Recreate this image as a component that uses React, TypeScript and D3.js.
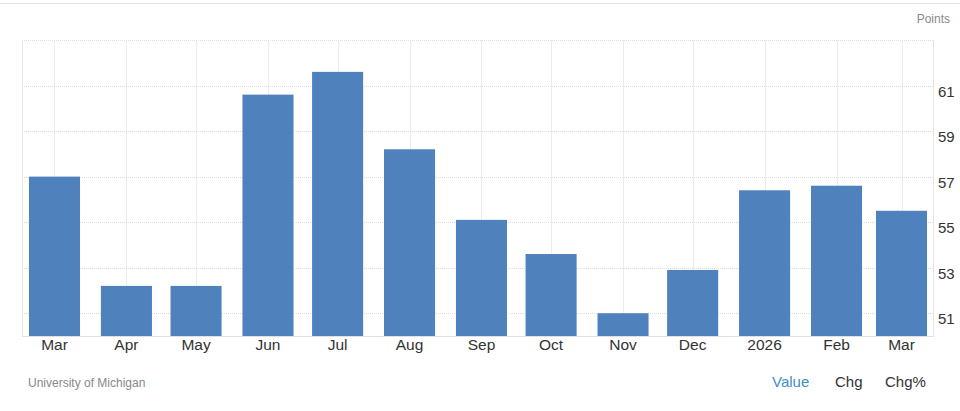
import React from "react";
import * as d3 from "d3";

const months = ["2025-03-01","2025-04-01","2025-05-01","2025-06-01","2025-07-01","2025-08-01","2025-09-01","2025-10-01","2025-11-01","2025-12-01","2026-01-01","2026-02-01","2026-03-01"];
const tickLabels = ["Mar","Apr","May","Jun","Jul","Aug","Sep","Oct","Nov","Dec","2026","Feb","Mar"];
const values = [57.0, 52.2, 52.2, 60.6, 61.6, 58.2, 55.1, 53.6, 51.0, 52.9, 56.4, 56.6, 55.5];
const yTicks = [51, 53, 55, 57, 59, 61];
const footerButtons = ["Value", "Chg", "Chg%"];

const W = 960, H = 411;
const left = 22, right = 934, top = 40, bottom = 336;
const DAY = 86400000;

export default function App() {
  const dates = months.map((m) => new Date(m + "T00:00:00Z"));
  const x = d3.scaleUtc()
    .domain([new Date(+dates[0] - 14 * DAY), new Date(+dates[dates.length - 1] + 14 * DAY)])
    .range([left, right]);
  const y = d3.scaleLinear().domain([50, 63]).range([bottom, top]);
  const barW = (x(new Date(22 * DAY)) as number) - (x(new Date(0)) as number);

  const font = "'Liberation Sans', Arial, sans-serif";
  return (
    <div style={{ position: "absolute", left: 0, top: 0 }}>
      <svg width={W} height={H} style={{ display: "block", fontFamily: font }}>
        <rect width={W} height={H} fill="#fff" />
        <line x1={0} x2={W} y1={3.5} y2={3.5} stroke="#e4e4e4" />
        <text x={950} y={23} textAnchor="end" fontSize={12} fill="#8a8a8a">Points</text>
        {dates.map((d, i) => (
          <line key={"vg" + i} x1={Math.round(x(d)) + 0.5} x2={Math.round(x(d)) + 0.5} y1={top} y2={bottom} stroke="#ececec" />
        ))}
        <line x1={left + 0.5} x2={left + 0.5} y1={top} y2={bottom} stroke="#e6e6e6" />
        <line x1={right - 0.5} x2={right - 0.5} y1={top} y2={bottom} stroke="#e6e6e6" />
        <line x1={left} x2={right} y1={top + 0.5} y2={top + 0.5} stroke="#e0e0e0" strokeDasharray="1,1" />
        {yTicks.map((t) => (
          <line key={"hg" + t} x1={left} x2={right} y1={Math.round(y(t)) + 0.5} y2={Math.round(y(t)) + 0.5} stroke="#dcdcdc" strokeDasharray="1,1" />
        ))}
        {dates.map((d, i) => (
          <rect key={"b" + i} x={x(d) - barW / 2} y={y(values[i])} width={barW} height={bottom - y(values[i])} fill="#4f81bd" />
        ))}
        <line x1={left} x2={right} y1={bottom + 0.5} y2={bottom + 0.5} stroke="#e0e0e0" />
        {yTicks.map((t) => (
          <text key={"yl" + t} x={938} y={y(t) + 11} fontSize={15} fill="#333">{t}</text>
        ))}
        {dates.map((d, i) => (
          <text key={"xl" + i} x={x(d)} y={350} textAnchor="middle" fontSize={15.5} fill="#333">{tickLabels[i]}</text>
        ))}
        <text x={28} y={387} fontSize={12} fill="#888">University of Michigan</text>
        <text x={772} y={387} fontSize={15} fill="#3b8fc8">{footerButtons[0]}</text>
        <text x={835} y={387} fontSize={15} fill="#333">{footerButtons[1]}</text>
        <text x={885} y={387} fontSize={15} fill="#333">{footerButtons[2]}</text>
      </svg>
    </div>
  );
}
